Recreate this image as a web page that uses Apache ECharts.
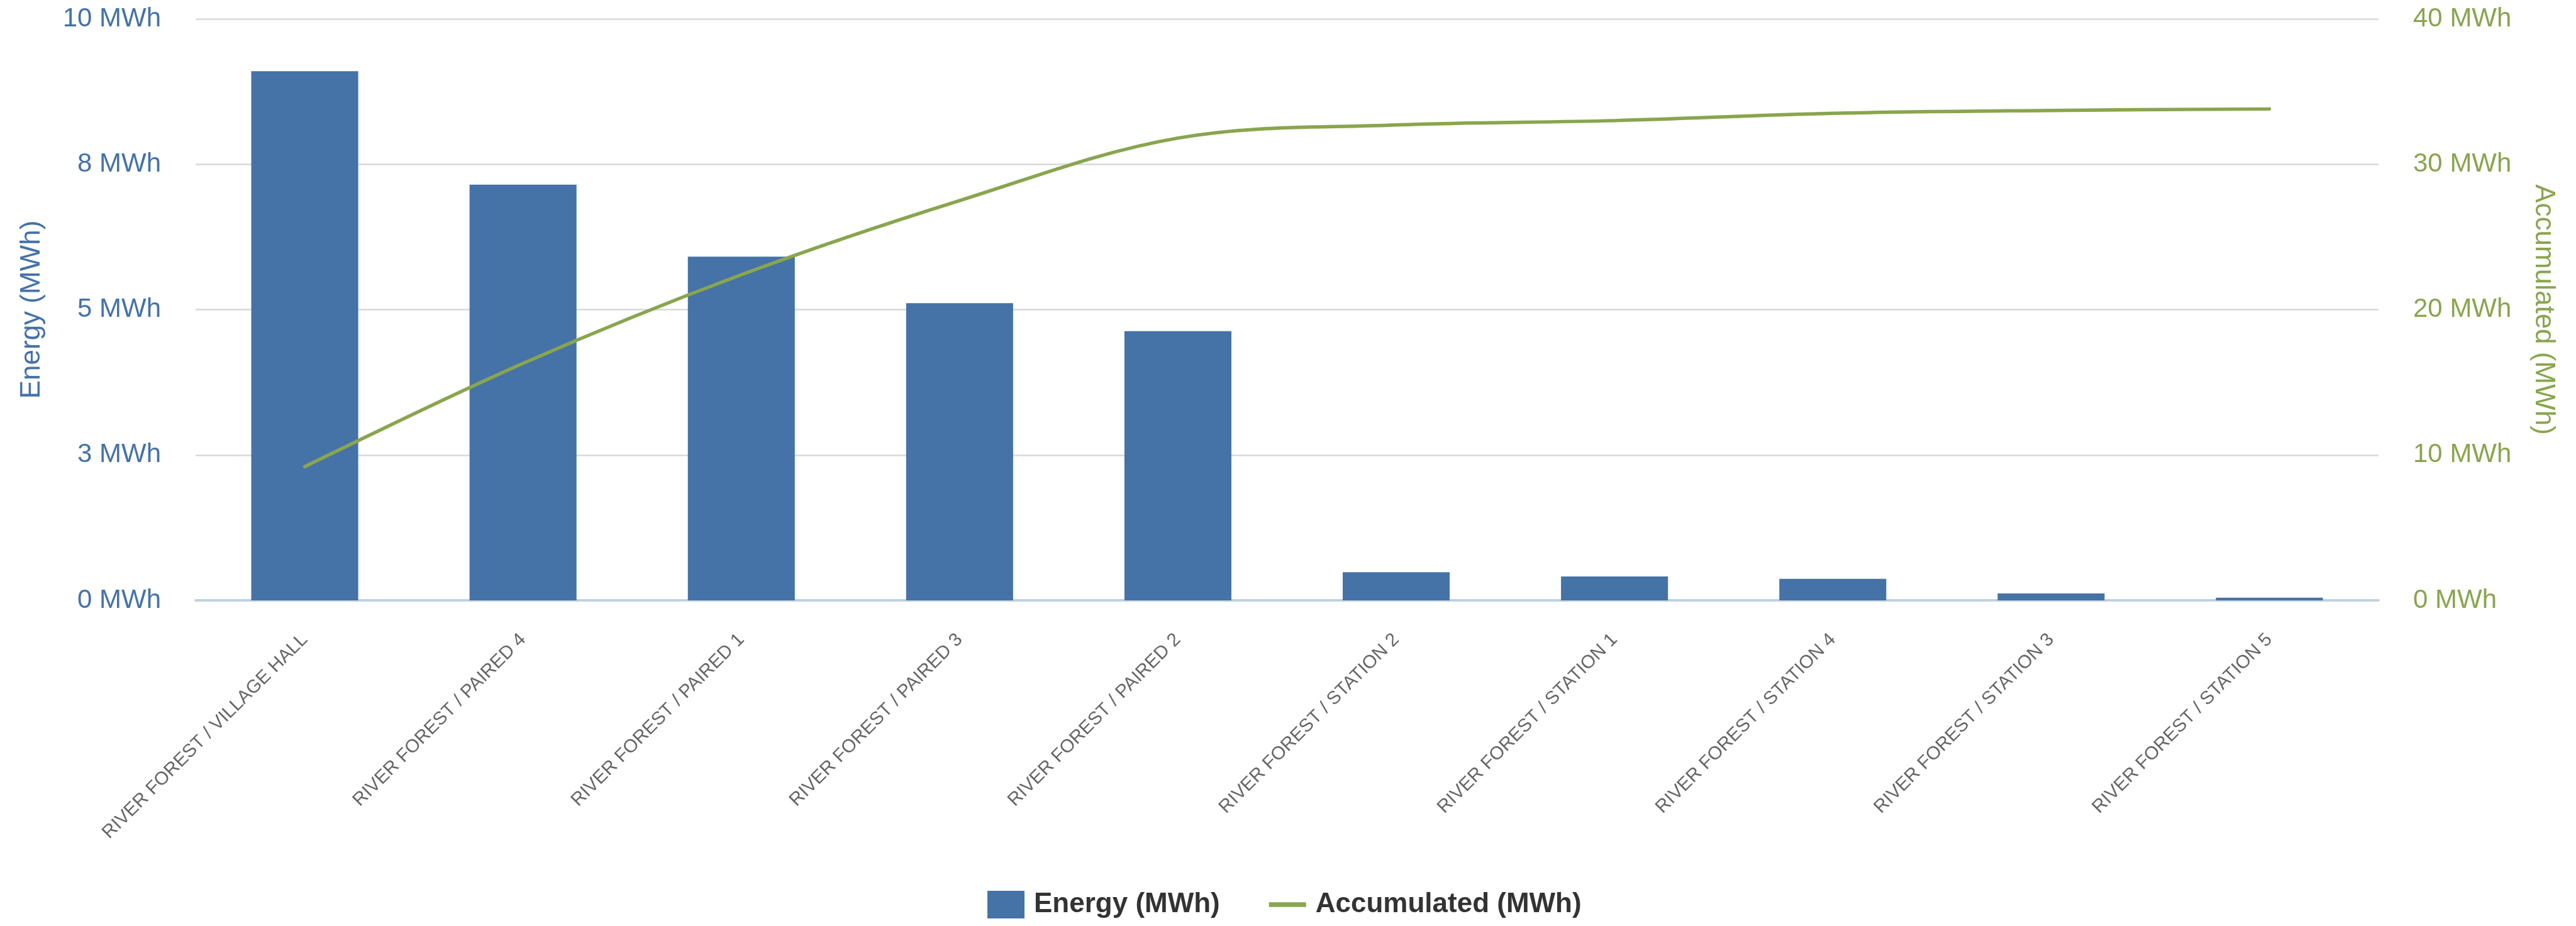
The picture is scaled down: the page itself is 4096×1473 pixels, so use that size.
<!DOCTYPE html>
<html>
<head>
<meta charset="utf-8">
<script src="https://cdn.jsdelivr.net/npm/echarts@6/dist/echarts.min.js"></script>
<style>
  html, body { margin: 0; padding: 0; background: #fff; }
  #main { width: 4096px; height: 1473px; }
</style>
</head>
<body>
<div id="main"></div>
<script>
// data
const categories = [
  'RIVER FOREST / VILLAGE HALL',
  'RIVER FOREST / PAIRED 4',
  'RIVER FOREST / PAIRED 1',
  'RIVER FOREST / PAIRED 3',
  'RIVER FOREST / PAIRED 2',
  'RIVER FOREST / STATION 2',
  'RIVER FOREST / STATION 1',
  'RIVER FOREST / STATION 4',
  'RIVER FOREST / STATION 3',
  'RIVER FOREST / STATION 5'
];
const energy = [9.1, 7.15, 5.91, 5.11, 4.63, 0.485, 0.41, 0.37, 0.12, 0.045];
const accumulated = [9.2, 16.3, 22.4, 27.5, 31.8, 32.7, 33.0, 33.5, 33.7, 33.8];
const energyAxis = { min: 0, max: 10, interval: 2.5 };
const accAxis = { min: 0, max: 40, interval: 10 };

const BLUE = '#4572A7';
const GREEN = '#89A54E';
const FONT = '"Liberation Sans", Arial, sans-serif';

const chart = echarts.init(document.getElementById('main'));

chart.setOption({
  backgroundColor: '#fff',
  animation: false,
  grid: {
    left: 311,
    right: 314,
    top: 30,
    bottom: 518
  },
  legend: {
    left: 1565,
    top: 1412,
    itemWidth: 59,
    itemHeight: 44,
    itemGap: 78,
    textStyle: {
      fontFamily: FONT,
      fontSize: 44,
      fontWeight: 'bold',
      color: '#333',
      padding: [0, 0, 0, 10]
    },
    data: [
      { name: 'Energy (MWh)', icon: 'rect' },
      { name: 'Accumulated (MWh)', icon: 'path://M0,0 H59 V7.5 H0 Z' }
    ]
  },
  xAxis: {
    type: 'category',
    data: categories,
    axisLine: { lineStyle: { color: '#C0D0E0', width: 4 } },
    axisTick: { length: 33, lineStyle: { color: '#C0D0E0', width: 2.6 } },
    axisLabel: {
      interval: 0,
      rotate: 45,
      margin: 58,
      fontFamily: FONT,
      fontSize: 29.5,
      color: '#666'
    }
  },
  yAxis: [
    {
      type: 'value',
      min: energyAxis.min,
      max: energyAxis.max,
      interval: energyAxis.interval,
      name: 'Energy (MWh)',
      nameLocation: 'middle',
      nameGap: 238,
      nameTextStyle: { fontFamily: FONT, fontSize: 44, color: BLUE },
      axisLabel: {
        margin: 55,
        fontFamily: FONT,
        fontSize: 42,
        color: BLUE,
        formatter: (v) => Math.round(v) + ' MWh'
      },
      splitLine: { lineStyle: { color: '#D8D8D8', width: 2.6 } }
    },
    {
      type: 'value',
      position: 'right',
      min: accAxis.min,
      max: accAxis.max,
      interval: accAxis.interval,
      name: 'Accumulated (MWh)',
      nameLocation: 'middle',
      nameRotate: -90,
      nameGap: 240,
      nameTextStyle: { fontFamily: FONT, fontSize: 44, color: GREEN },
      axisLabel: {
        margin: 55,
        fontFamily: FONT,
        fontSize: 42,
        color: GREEN,
        formatter: (v) => v + ' MWh'
      },
      splitLine: { show: false }
    }
  ],
  series: [
    {
      name: 'Energy (MWh)',
      type: 'bar',
      data: energy,
      barWidth: '49%',
      itemStyle: { color: BLUE }
    },
    {
      name: 'Accumulated (MWh)',
      type: 'line',
      yAxisIndex: 1,
      data: accumulated,
      smooth: 0.35,
      symbol: 'none',
      z: 3,
      itemStyle: { color: GREEN },
      lineStyle: { color: GREEN, width: 5.5, cap: 'round' }
    }
  ]
});
</script>
</body>
</html>
